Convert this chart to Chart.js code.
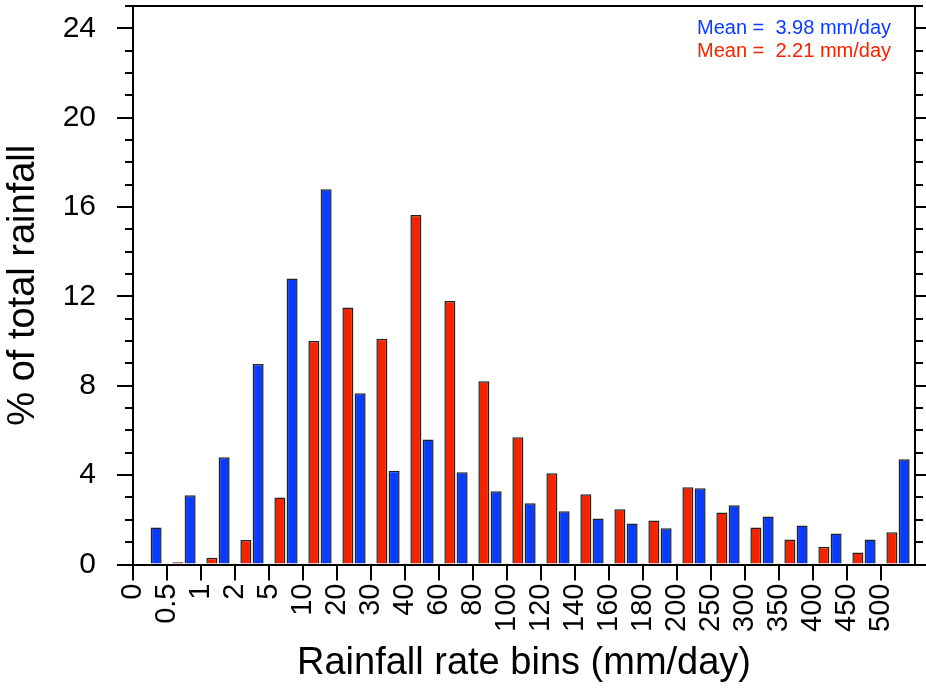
<!DOCTYPE html>
<html>
<head>
<meta charset="utf-8">
<script src="https://cdn.jsdelivr.net/npm/chart.js@4/dist/chart.umd.min.js"></script>
<style>
  html, body { margin: 0; padding: 0; background: #ffffff; }
  #wrap { width: 926px; height: 688px; }
</style>
</head>
<body>
<div id="wrap"><canvas id="c" width="926" height="688"></canvas></div>
<script>
// Bin edge labels (mm/day)
const binLabels = ['0','0.5','1','2','5','10','20','30','40','60','80','100','120','140','160','180','200','250','300','350','400','450','500'];
// % of total rainfall per bin (last bin is > 500)
const redValues  = [0.05, 0.1, 0.3, 1.1, 3.0, 10.0, 11.5, 10.1, 15.65, 11.8, 8.2, 5.7, 4.08, 3.14, 2.47, 1.97, 3.46, 2.33, 1.66, 1.12, 0.8, 0.54, 1.44];
const blueValues = [1.66, 3.1, 4.8, 8.98, 12.8, 16.8, 7.67, 4.2, 5.6, 4.13, 3.28, 2.74, 2.38, 2.06, 1.84, 1.62, 3.41, 2.65, 2.15, 1.75, 1.39, 1.12, 4.71];
const yTickLabels = ['0','4','8','12','16','20','24'];
const meanTexts = ['Mean =  3.98 mm/day', 'Mean =  2.21 mm/day'];

const BLUE = '#0a3cff';
const RED = '#f42400';
const FONT = '"Liberation Sans", Arial, Helvetica, sans-serif';

function noPad(s) { s.paddingLeft = 0; s.paddingRight = 0; s.paddingTop = 0; s.paddingBottom = 0; }

const meanPlugin = {
  id: 'meanText',
  afterDraw(chart) {
    const ctx = chart.ctx;
    ctx.save();
    ctx.font = '20px ' + FONT;
    ctx.textAlign = 'right';
    ctx.textBaseline = 'alphabetic';
    ctx.fillStyle = BLUE;
    ctx.fillText(meanTexts[0], 891, 34);
    ctx.fillStyle = RED;
    ctx.fillText(meanTexts[1], 891, 57);
    ctx.restore();
  }
};

new Chart(document.getElementById('c'), {
  type: 'bar',
  data: {
    datasets: [
      {
        label: 'red',
        data: redValues.map((v, i) => ({ x: i + 0.5, y: v })),
        backgroundColor: RED,
        borderColor: '#222222',
        borderWidth: 1.5
      },
      {
        label: 'blue',
        data: blueValues.map((v, i) => ({ x: i + 0.5, y: v })),
        backgroundColor: BLUE,
        borderColor: '#222222',
        borderWidth: 1.5
      }
    ]
  },
  options: {
    responsive: false,
    animation: false,
    categoryPercentage: 0.72,
    barPercentage: 0.9,
    layout: { padding: { left: 0, right: 0, top: 6, bottom: 0 } },
    plugins: { legend: { display: false }, tooltip: { enabled: false } },
    scales: {
      x: {
        type: 'linear',
        position: 'bottom',
        min: 0,
        max: 23,
        offset: false,
        z: 1,
        afterFit(s) { s.height = 123.5; noPad(s); },
        ticks: {
          stepSize: 1,
          autoSkip: false,
          maxRotation: 90,
          minRotation: 90,
          padding: 3,
          color: '#000',
          font: { family: FONT, size: 29 },
          callback: (v) => (binLabels[v] !== undefined ? binLabels[v] : '')
        },
        grid: {
          offset: false,
          drawOnChartArea: false,
          tickLength: 16,
          tickWidth: 2,
          lineWidth: 2,
          color: '#000',
          tickColor: (c) => (c.tick && c.tick.value >= binLabels.length ? 'rgba(0,0,0,0)' : '#000')
        },
        border: { display: true, color: '#000', width: 2 },
        title: {
          display: true,
          text: 'Rainfall rate bins (mm/day)',
          color: '#000',
          font: { family: FONT, size: 38, lineHeight: 1 },
          padding: { top: 0, bottom: 5 }
        }
      },
      xTop: {
        type: 'linear',
        position: 'top',
        min: 0,
        max: 23,
        offset: false,
        z: 1,
        afterFit(s) { s.height = 0; noPad(s); },
        ticks: { display: false },
        grid: { display: false, drawTicks: false, offset: false },
        border: { display: true, color: '#000', width: 2 }
      },
      y: {
        type: 'linear',
        position: 'left',
        min: 0,
        max: 25,
        z: 1,
        afterFit(s) { s.width = 133; noPad(s); },
        ticks: {
          stepSize: 1,
          autoSkip: false,
          padding: 21,
          color: '#000',
          font: { family: FONT, size: 30 },
          callback: (v) => (yTickLabels.includes(String(v)) ? String(v) : '')
        },
        grid: {
          drawOnChartArea: false,
          tickLength: 16,
          tickWidth: 2,
          lineWidth: 2,
          color: '#000',
          tickColor: '#000',
          tickBorderDash: (c) => (c.tick && !yTickLabels.includes(String(c.tick.value)) ? [0, 8, 8, 100] : [])
        },
        border: { display: true, color: '#000', width: 2 },
        title: {
          display: true,
          text: '% of total rainfall',
          color: '#000',
          font: { family: FONT, size: 38, lineHeight: 1 },
          padding: { top: 5, bottom: 0 }
        }
      },
      yRight: {
        type: 'linear',
        position: 'right',
        min: 0,
        max: 25,
        z: 1,
        afterFit(s) { s.width = 11; noPad(s); },
        ticks: { display: false, stepSize: 1, autoSkip: false },
        grid: {
          drawOnChartArea: false,
          tickLength: 11,
          tickWidth: 2,
          lineWidth: 2,
          color: '#000',
          tickColor: '#000',
          tickBorderDash: (c) => (c.tick && !yTickLabels.includes(String(c.tick.value)) ? [7, 100] : [])
        },
        border: { display: true, color: '#000', width: 2 }
      }
    }
  },
  plugins: [meanPlugin]
});
</script>
</body>
</html>
